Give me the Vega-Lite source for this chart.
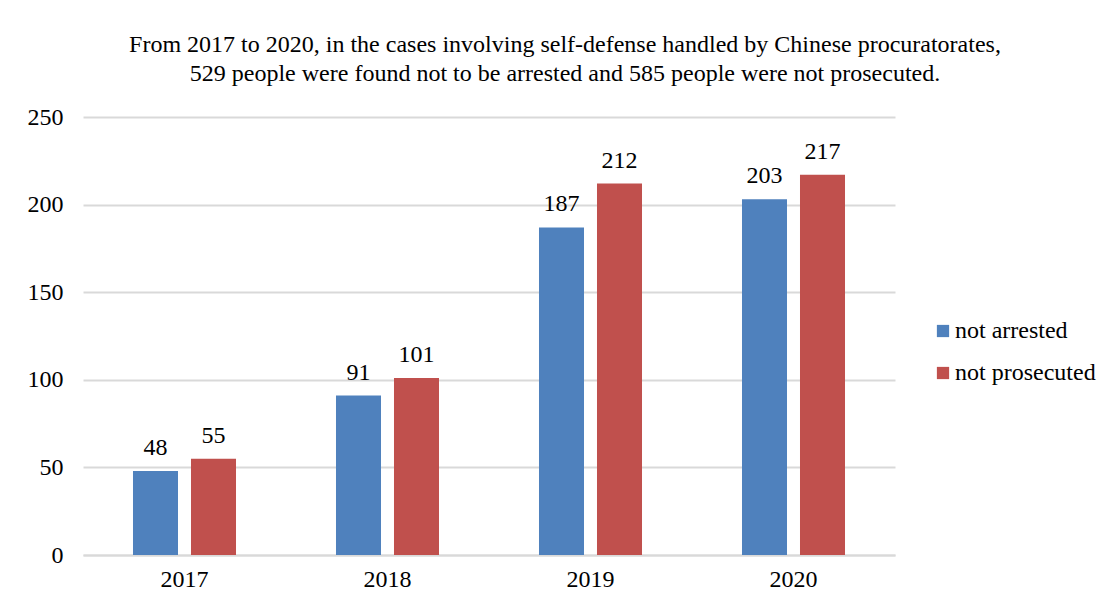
{
  "$schema": "https://vega.github.io/schema/vega-lite/v6.json",
  "autosize": {"type": "none"},
  "width": 812,
  "height": 438,
  "padding": {"left": 83, "top": 117, "right": 219, "bottom": 54},
  "background": "white",
  "title": {
    "text": ["From 2017 to 2020, in the cases involving self-defense handled by Chinese procuratorates,", "529 people were found not to be arrested and 585 people were not prosecuted."],
    "anchor": "middle",
    "dx": 76,
    "offset": 19,
    "font": "Liberation Serif",
    "fontSize": 24,
    "fontWeight": "normal",
    "color": "black",
    "lineHeight": 29
  },
  "data": {
    "values": [
      {"year": "2017", "type": "not arrested", "count": 48},
      {"year": "2017", "type": "not prosecuted", "count": 55},
      {"year": "2018", "type": "not arrested", "count": 91},
      {"year": "2018", "type": "not prosecuted", "count": 101},
      {"year": "2019", "type": "not arrested", "count": 187},
      {"year": "2019", "type": "not prosecuted", "count": 212},
      {"year": "2020", "type": "not arrested", "count": 203},
      {"year": "2020", "type": "not prosecuted", "count": 217}
    ]
  },
  "encoding": {
    "x": {
      "field": "year", "type": "nominal",
      "scale": {"paddingInner": 0, "paddingOuter": 0},
      "axis": {"title": null, "labelAngle": 0, "labelFont": "Liberation Serif", "labelFontSize": 24, "labelColor": "black", "labelPadding": 12, "ticks": false, "domainColor": "#d9d9d9", "domainWidth": 2, "grid": false}
    },
    "xOffset": {"field": "type", "scale": {"paddingInner": 0.224, "paddingOuter": 0.862}},
    "y": {
      "field": "count", "type": "quantitative",
      "scale": {"domain": [0, 250], "nice": false},
      "axis": {"title": null, "values": [0, 50, 100, 150, 200, 250], "labelFont": "Liberation Serif", "labelFontSize": 24, "labelColor": "black", "labelPadding": 20, "ticks": false, "domain": false, "gridColor": "#d9d9d9", "gridWidth": 2}
    }
  },
  "layer": [
    {
      "mark": {"type": "bar"},
      "encoding": {
        "color": {
          "field": "type", "type": "nominal",
          "scale": {"domain": ["not arrested", "not prosecuted"], "range": ["#4f81bd", "#c0504d"]},
          "legend": {
            "title": null, "orient": "none", "legendX": 848, "legendY": 202,
            "symbolType": "square", "symbolSize": 150, "symbolStrokeWidth": 0,
            "labelFont": "Liberation Serif", "labelFontSize": 24, "labelColor": "black",
            "labelOffset": 0, "rowPadding": 18
          }
        }
      }
    },
    {
      "mark": {"type": "text", "baseline": "bottom", "dy": -11, "font": "Liberation Serif", "fontSize": 24, "color": "black"},
      "encoding": {"text": {"field": "count", "type": "quantitative"}}
    }
  ],
  "config": {
    "font": "Liberation Serif",
    "view": {"stroke": null},
    "text": {"font": "Liberation Serif"},
    "legend": {"labelFont": "Liberation Serif"}
  }
}
